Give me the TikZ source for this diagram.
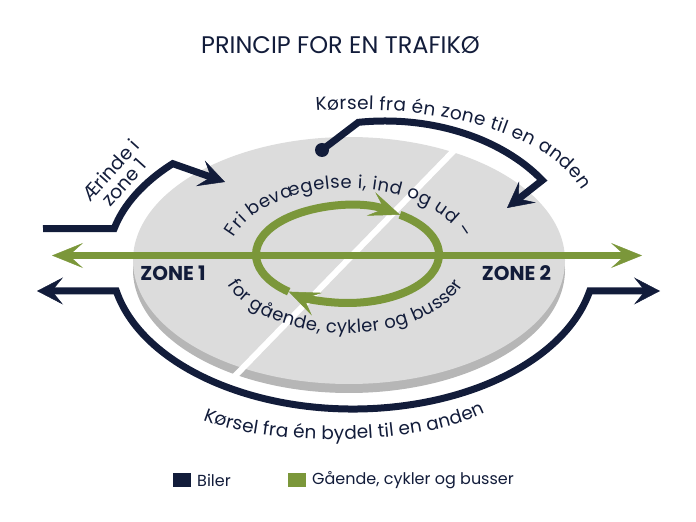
\documentclass[tikz,border=0pt]{standalone}
\usepackage{fontspec}
\setmainfont{Poppins}
\usetikzlibrary{arrows.meta,decorations.text}
\definecolor{bilnavy}{HTML}{121C3A}
\definecolor{gangreen}{HTML}{7B973A}
\definecolor{disctop}{HTML}{DCDCDC}
\definecolor{discside}{HTML}{B6B6B6}
\tikzset{
  car tip/.tip={Stealth[length=26pt,width=27pt,inset=11pt,line width=0.5pt]},
  green tip/.tip={Stealth[length=31pt,width=25pt,inset=14pt,line width=0.5pt]},
  car route/.style={draw=bilnavy,line width=7pt},
  green route/.style={draw=gangreen,line width=7pt},
  curved text/.style 2 args={decorate,decoration={text along path,text align=fit to path,
      text color=bilnavy,text={|\fontsize{#1}{20}\selectfont|#2}}},
  zone label/.style={text=bilnavy,font=\fontsize{20}{22}\selectfont\bfseries},
  errand label/.style={text=bilnavy,rotate=48,align=center,
      font=\fontsize{19}{18}\selectfont},
  legend label/.style={text=bilnavy,anchor=west,inner sep=1pt,
      font=\fontsize{16}{18}\selectfont},
}

\begin{document}
\begin{tikzpicture}[x=1pt,y=1pt]
\useasboundingbox (0,0) rectangle (696,522);
\node[text=bilnavy,font=\fontsize{24}{26}\selectfont] (title) at (340.5,477) {PRINCIP FOR EN TRAFIKØ};
% the disc with its two zones
\coordinate (disc) at (349,261.5);
\fill[discside] ([yshift=-9]disc) ellipse[x radius=216,y radius=123.5];
\fill[disctop] (disc) ellipse[x radius=216,y radius=123.5];
\draw[white,line width=6] (455.5,373) -- (234,145);
% cars
\coordinate (crest) at (385,262);
\coordinate (rim) at (353,262);
\draw[car route,-{car tip}] (43,293.4) -- ([shift={(167:241 and 142)}]disc)
  arc[start angle=167,end angle=137,x radius=241,y radius=142] -- (225,340);
\fill[bilnavy] (322,372) coordinate (dot) circle[radius=7];
\draw[car route,-{car tip}] (dot) -- ([shift={(98:192 and 139)}]crest)
  arc[start angle=98,end angle=35,x radius=192,y radius=139] -- (507,314);
\draw[car route,{car tip}-{car tip}] (37,231) -- ([shift={(192:242 and 149)}]rim)
  arc[start angle=192,end angle=348,x radius=242,y radius=149] -- (660,231);
% walking, bikes, buses
\coordinate (ring) at (347.5,267.5);
\draw[green route,{green tip}-{green tip}] (52,266.5) -- (642,266.5);
\draw[green route,line width=8,-{green tip}] ([shift={(230:91.5 and 48.5)}]ring)
  arc[start angle=230,end angle=55,x radius=91.5,y radius=48.5];
\draw[green route,line width=8,-{green tip}] ([shift={(55:91.5 and 48.5)}]ring)
  arc[start angle=55,end angle=-130,x radius=91.5,y radius=48.5];
% labels
\coordinate (uppertext) at (348,260);
\coordinate (lowertext) at (345.5,260);
\path[curved text={18}{Fri bevægelse i, ind og ud –}] ([shift={(160.5:121 and 74)}]uppertext)
  arc[start angle=160.5,end angle=18,x radius=121,y radius=74];
\path[curved text={18}{for gående, cykler og busser}] ([shift={(198.6:124 and 71)}]lowertext)
  arc[start angle=198.6,end angle=341.4,x radius=124,y radius=71];
\path[curved text={18.5}{Kørsel fra én zone til en anden}] (316,411) .. controls (420,419) and (545,394) .. (582,332);
\path[curved text={18.5}{Kørsel fra én bydel til en anden}] (203,102) .. controls (270,75) and (415,75) .. (485,109);
\node[errand label] (errand) at (117,346) {Ærinde i\\zone 1};
\foreach \zx/\zn in {173/1,516.5/2}
  \node[zone label] (zone\zn) at (\zx,248.5) {ZONE \zn};
% legend
\foreach \lx/\col/\txt [count=\i] in {173/bilnavy/Biler,288/gangreen/{Gående, cykler og busser}}
{
  \fill[\col] (\lx,35) rectangle ++(18,14);
  \node[legend label] (legend\i) at (\lx+23,42) {\txt};
}
\end{tikzpicture}
\end{document}
